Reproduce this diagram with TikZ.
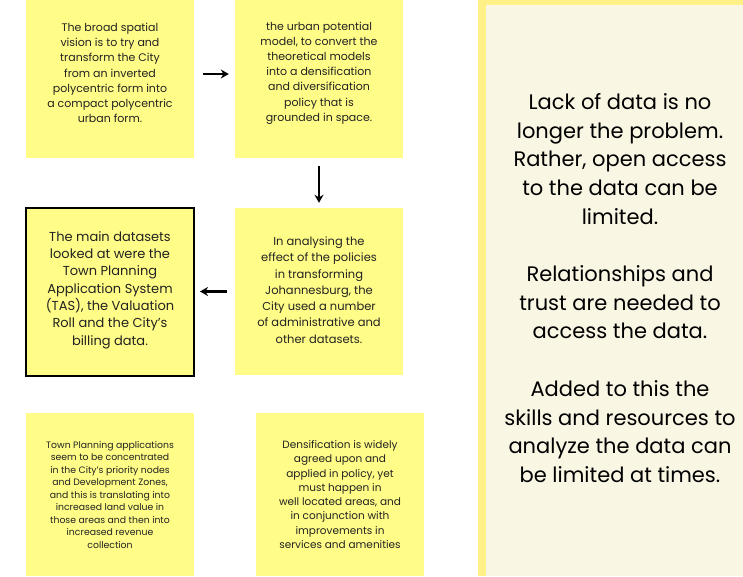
\documentclass[tikz,border=0pt]{standalone}
\usepackage{fontspec}
\setmainfont{Poppins}
\usetikzlibrary{arrows.meta}
\definecolor{sticky}{HTML}{FFFD87}
\definecolor{paneledge}{HTML}{FFF087}
\definecolor{panelfill}{HTML}{FAF6E4}
\definecolor{ink}{HTML}{222222}
\tikzset{
  sticky/.style={fill=sticky,minimum width=168pt,minimum height=168pt,inner sep=0pt},
  note/.style={align=center,text=ink,inner sep=0pt},
  flow/.style={line width=2.4pt,-{Stealth[length=8pt,width=9pt]}}
}
\begin{document}
\begin{tikzpicture}[x=1pt,y=-1pt]
\useasboundingbox (0,0) rectangle (743,576);
% right hand panel
\fill[paneledge] (478,0) rectangle (743,576);
\fill[panelfill] (486,5) rectangle (743,576);
\node[note,text=black,font=\fontsize{21}{28.7}\selectfont] (panel) at (620,288)
  {Lack of data is no\\ longer the problem.\\ Rather, open access\\ to the data can be\\ limited.\\[28.7pt]
   Relationships and\\ trust are needed to\\ access the data.\\[28.7pt]
   Added to this the\\ skills and resources to\\ analyze the data can\\ be limited at times.};
% sticky notes
\node[sticky,minimum height=158pt] (vision) at (110,79) {};
\node[sticky,minimum height=158pt] (model) at (319,79) {};
\node[sticky,draw=black,line width=2pt] (datasets) at (110,291.5) {};
\node[sticky,minimum height=167pt] (analysing) at (319,291.5) {};
\node[sticky,minimum height=163pt] (applications) at (110,494.5) {};
\node[sticky,minimum height=163pt] (densification) at (340,494.5) {};
\node[note,font=\fontsize{11}{15.2}\selectfont] (visiontxt) at ([yshift=6]vision.center)
  {The broad spatial\\ vision is to try and\\ transform the City\\ from an inverted\\ polycentric form into\\ a compact polycentric\\ urban form.};
\node[note,font=\fontsize{11}{15.2}\selectfont] (modeltxt) at ([yshift=6]model.center)
  {the urban potential\\ model, to convert the\\ theoretical models\\ into a densification\\ and diversification\\ policy that is\\ grounded in space.};
\node[note,font=\fontsize{13}{17.3}\selectfont] (datasetstxt) at ([yshift=1.5]datasets.center)
  {The main datasets\\ looked at were the\\ Town Planning\\ Application System\\ (TAS), the Valuation\\ Roll and the City's\\ billing data.};
\node[note,font=\fontsize{11.5}{16.3}\selectfont] (analysingtxt) at ([yshift=1.5]analysing.center)
  {In analysing the\\ effect of the policies\\ in transforming\\ Johannesburg, the\\ City used a number\\ of administrative and\\ other datasets.};
\node[note,font=\fontsize{9.3}{12.5}\selectfont] (applicationstxt) at (applications.center)
  {Town Planning applications\\ seem to be concentrated\\ in the City's priority nodes\\ and Development Zones,\\ and this is translating into\\ increased land value in\\ those areas and then into\\ increased revenue\\ collection};
\node[note,font=\fontsize{10.5}{14.3}\selectfont] (densificationtxt) at (densification.center)
  {Densification is widely\\ agreed upon and\\ applied in policy, yet\\ must happen in\\ well located areas, and\\ in conjunction with\\ improvements in\\ services and amenities};
% arrows
\draw[flow,shorten <=9pt,shorten >=6pt] ([yshift=5]vision.east) -- ([yshift=5]model.west);
\draw[flow,shorten <=8pt,shorten >=5pt] (model.south) -- (analysing.north);
\draw[flow,shorten <=8pt,shorten >=5pt] (analysing.west) -- (datasets.east);
\end{tikzpicture}
\end{document}
